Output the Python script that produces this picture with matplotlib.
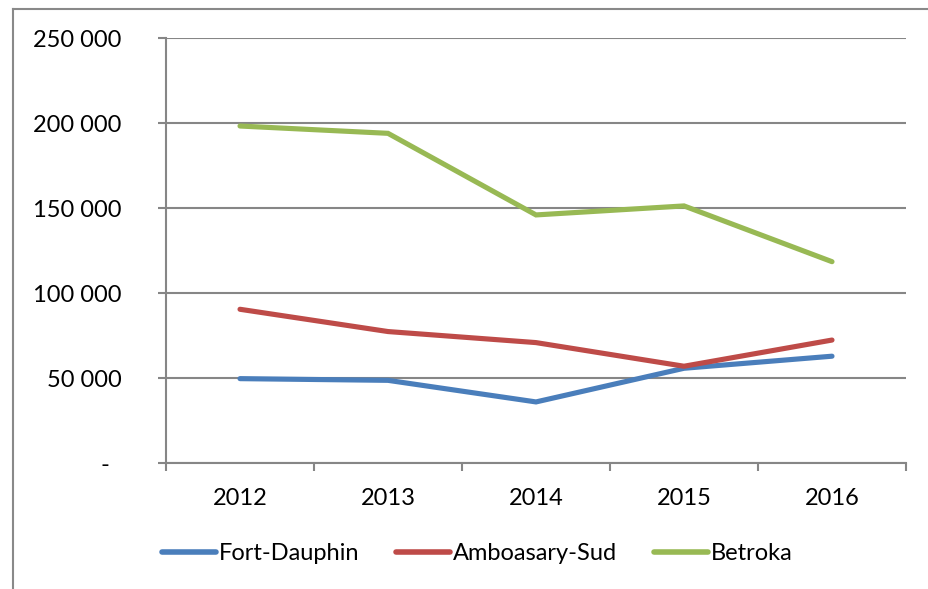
import matplotlib
matplotlib.use("Agg")
import matplotlib.pyplot as plt
from matplotlib.ticker import FuncFormatter, FixedLocator
from matplotlib.lines import Line2D

years = ["2012", "2013", "2014", "2015", "2016"]
fort_dauphin = [49800, 48800, 36100, 55900, 63000]
amboasary_sud = [90600, 77500, 71000, 57100, 72500]
betroka = [198400, 194100, 146100, 151400, 118600]

series = [
    ("Fort-Dauphin", fort_dauphin, "#4A7EBB"),
    ("Amboasary-Sud", amboasary_sud, "#BE4B48"),
    ("Betroka", betroka, "#98B954"),
]

plt.rcParams['font.family'] = ['Lato', 'DejaVu Sans']

W, H = 929, 589
fig = plt.figure(figsize=(W / 100, H / 100), dpi=100)
ax = fig.add_axes([166 / W, 1 - 463.3 / H, (906 - 166) / W, (463.3 - 38.3) / H])

x = list(range(1, len(years) + 1))
for name, vals, col in series:
    ax.plot(x, vals, color=col, lw=3.7, solid_capstyle='round',
            solid_joinstyle='miter', label=name, zorder=3)

grid_col = "#868686"
ax.set_xlim(0.5, len(years) + 0.5)
ax.set_ylim(0, 250000)
ax.set_yticks([0, 50000, 100000, 150000, 200000, 250000])

def yfmt(v, pos):
    if v == 0:
        return "-  "
    return f"{int(v):,}".replace(",", " ")

ax.yaxis.set_major_formatter(FuncFormatter(yfmt))
ax.yaxis.grid(True, color=grid_col, lw=1.5)
ax.set_axisbelow(True)

ax.set_xticks(x)
ax.set_xticklabels(years)
ax.xaxis.set_minor_locator(FixedLocator([i + 0.5 for i in range(0, len(years) + 1)]))
ax.tick_params(axis='x', which='major', length=0, pad=18, labelsize=17)
ax.tick_params(axis='x', which='minor', length=6, width=1.5, color=grid_col, direction='out')
ax.tick_params(axis='y', which='major', length=6, width=1.5, color=grid_col, pad=26, labelsize=17)

for s in ['top', 'right']:
    ax.spines[s].set_visible(False)
for s in ['left', 'bottom']:
    ax.spines[s].set_color(grid_col)
    ax.spines[s].set_linewidth(1.5)

leg = fig.legend(loc='center', bbox_to_anchor=(477 / W, 1 - 554 / H), ncol=3,
                 frameon=False, fontsize=17, handlelength=2.3, handletextpad=0.12,
                 columnspacing=1.55)
for h in leg.get_lines():
    h.set_linewidth(4)

# outer chart border (partially visible)
bc = "#898989"
fig.add_artist(Line2D([13 / W, 1.0], [1 - 8.5 / H, 1 - 8.5 / H], color=bc, lw=1.5,
                      transform=fig.transFigure))
fig.add_artist(Line2D([13 / W, 13 / W], [0.0, 1 - 8.5 / H], color=bc, lw=1.5,
                      transform=fig.transFigure))

fig.savefig("out.png", dpi=100)
